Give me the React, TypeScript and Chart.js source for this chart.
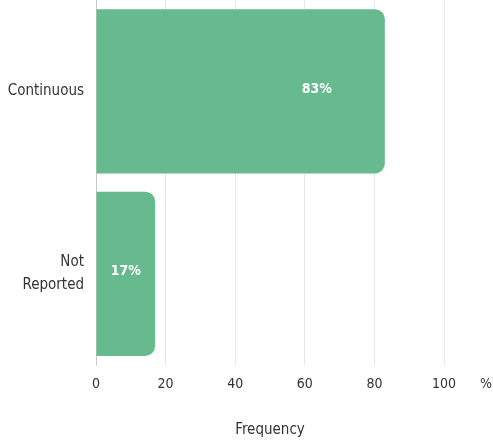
import React, { useEffect, useRef } from "react";
import { Chart, registerables } from "chart.js";

Chart.register(...registerables);

const categories: (string | string[])[] = ["Continuous", ["Not", "Reported"]];
const frequencies = [83, 17];
const valueLabels = ["83%", "17%"];
const xTicks = [0, 20, 40, 60, 80, 100];

const FONT = "'Liberation Sans Narrow', 'DejaVu Sans Condensed', 'Noto Sans', sans-serif";
const BAR_COLOR = "#66ba8e";
const TEXT_COLOR = "#333333";

// Writes the percentage inside each bar, and the unit sign after the x axis.
const annotations = {
  id: "annotations",
  afterDatasetsDraw(chart: any) {
    const { ctx } = chart;
    const meta = chart.getDatasetMeta(0);
    ctx.save();
    ctx.fillStyle = "#ffffff";
    ctx.font = `bold 14px ${FONT}`;
    ctx.textAlign = "center";
    ctx.textBaseline = "middle";
    meta.data.forEach((bar: any, i: number) => {
      const center = (bar.base + bar.x) / 2;
      const x = Math.max(center, bar.x - 68);
      ctx.fillText(valueLabels[i], x, bar.y - 2);
    });
    ctx.restore();
  },
  afterDraw(chart: any) {
    const { ctx, chartArea } = chart;
    const xScale = chart.scales.x;
    ctx.save();
    ctx.fillStyle = TEXT_COLOR;
    ctx.font = `14px ${FONT}`;
    ctx.textAlign = "center";
    ctx.textBaseline = "middle";
    ctx.fillText("%", chartArea.right + 42, xScale.top + 19);
    ctx.restore();
  },
};

export default function App() {
  const canvasRef = useRef<HTMLCanvasElement>(null);

  useEffect(() => {
    if (!canvasRef.current) return;
    const chart = new Chart(canvasRef.current, {
      type: "bar",
      data: {
        labels: categories,
        datasets: [
          {
            data: frequencies,
            backgroundColor: BAR_COLOR,
            borderRadius: { topRight: 10, bottomRight: 10, topLeft: 0, bottomLeft: 0 },
            borderSkipped: false,
            barPercentage: 0.9,
            categoryPercentage: 1,
          },
        ],
      },
      options: {
        indexAxis: "y",
        animation: false,
        responsive: false,
        layout: { autoPadding: false, padding: { top: 0, right: 49, left: 0, bottom: 0 } },
        plugins: { legend: { display: false }, tooltip: { enabled: false } },
        scales: {
          x: {
            min: 0,
            max: 100,
            afterBuildTicks: (scale: any) => {
              scale.ticks = xTicks.map((v) => ({ value: v }));
            },
            afterFit: (scale: any) => {
              scale.height = 79;
              scale.paddingLeft = 0;
              scale.paddingRight = 0;
            },
            grid: {
              color: (c: any) => (c.tick && c.tick.value === 0 ? "#c8c8c8" : "#e8e8e8"),
              drawTicks: false,
            },
            border: { display: false },
            ticks: {
              padding: 11,
              color: TEXT_COLOR,
              font: { family: FONT, size: 14 },
            },
            title: {
              display: true,
              text: "Frequency",
              color: TEXT_COLOR,
              font: { family: FONT, size: 15 },
              padding: { top: 0, bottom: 5 },
            },
          },
          y: {
            afterFit: (scale: any) => {
              scale.width = 96;
              scale.paddingTop = 0;
              scale.paddingBottom = 0;
            },
            grid: { display: false, drawTicks: false },
            border: { display: true, color: "#c8c8c8" },
            ticks: {
              padding: 12,
              color: TEXT_COLOR,
              font: { family: FONT, size: 15, lineHeight: 1.5 },
            },
          },
        },
      },
      plugins: [annotations],
    });
    return () => chart.destroy();
  }, []);

  return (
    <div style={{ position: "fixed", left: 0, top: 0, width: 493, height: 444, background: "#fff" }}>
      <canvas ref={canvasRef} width={493} height={444} />
    </div>
  );
}
